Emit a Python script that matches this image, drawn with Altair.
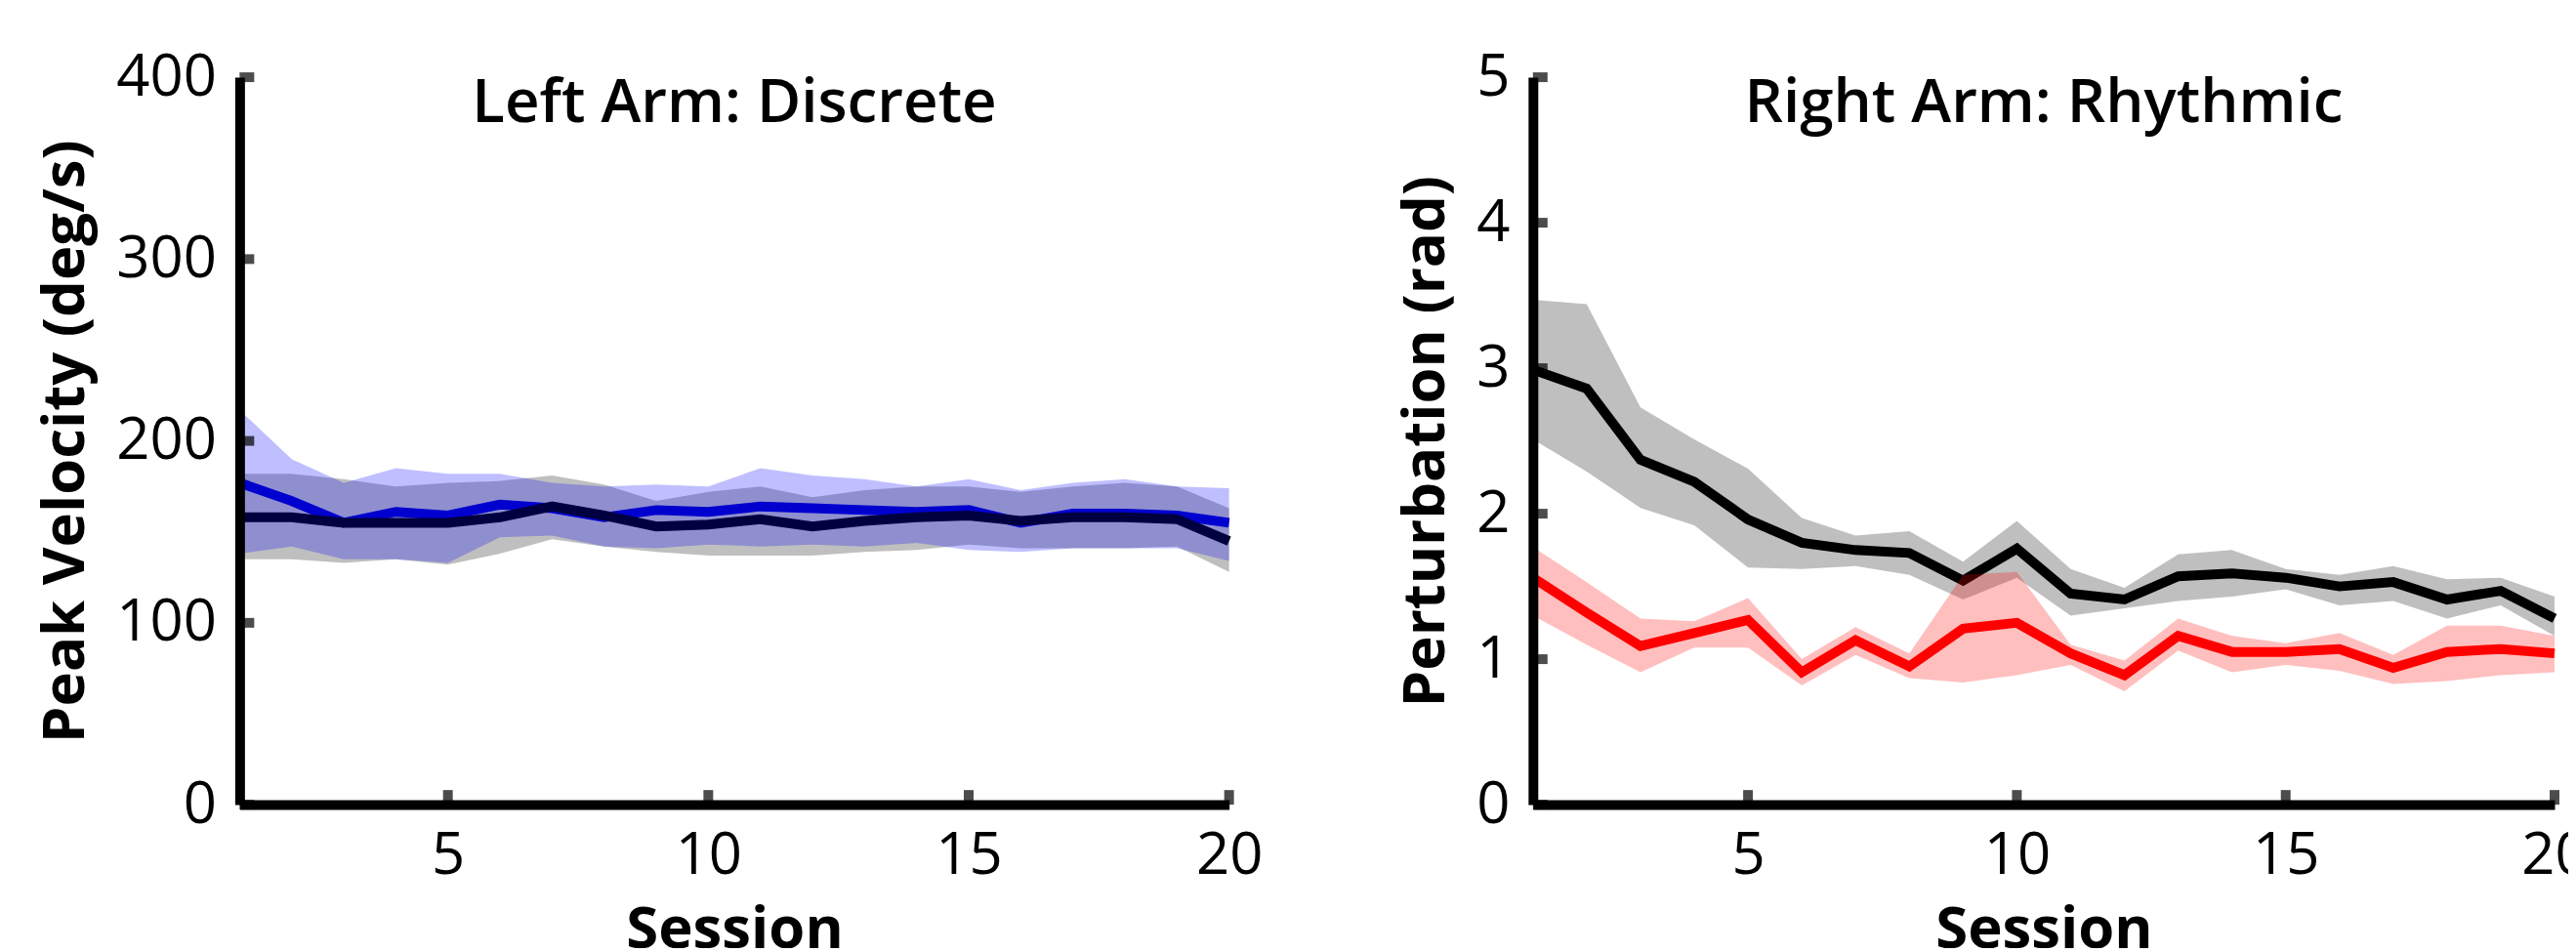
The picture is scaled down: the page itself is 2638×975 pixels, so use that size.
import altair as alt
import pandas as pd

SESSIONS = list(range(1, 21))

# Left panel: Peak Velocity (deg/s)
LEFT_BLUE_MEAN = [177, 167, 155, 161, 159, 165, 163, 158, 162, 161, 164, 163, 162, 161, 162, 155, 160, 160, 159, 155]
LEFT_BLUE_HI = [217, 190, 177, 185, 182, 182, 177, 175, 176, 175, 185, 181, 179, 175, 179, 173, 177, 179, 175, 174]
LEFT_BLUE_LO = [138, 142, 135, 135, 133, 147, 148, 142, 141, 143, 142, 143, 142, 144, 140, 139, 141, 141, 141, 134]
LEFT_BLACK_MEAN = [158, 158, 155, 155, 155, 158, 164, 159, 153, 154, 157, 153, 156, 158, 159, 156, 158, 158, 157, 145]
LEFT_BLACK_HI = [182, 182, 179, 175, 177, 178, 181, 176, 167, 172, 175, 169, 173, 175, 175, 172, 175, 177, 175, 163]
LEFT_BLACK_LO = [135, 135, 133, 135, 132, 138, 146, 142, 139, 137, 137, 137, 139, 140, 143, 141, 141, 141, 142, 128]

# Right panel: Perturbation (rad)
RIGHT_RED_MEAN = [1.56, 1.32, 1.09, 1.18, 1.27, 0.91, 1.13, 0.95, 1.21, 1.25, 1.04, 0.89, 1.16, 1.05, 1.05, 1.07, 0.94, 1.05, 1.07, 1.04]
RIGHT_RED_HI = [1.77, 1.53, 1.28, 1.26, 1.42, 1.00, 1.22, 1.04, 1.58, 1.60, 1.10, 0.99, 1.28, 1.16, 1.11, 1.18, 1.03, 1.23, 1.23, 1.16]
RIGHT_RED_LO = [1.30, 1.10, 0.91, 1.08, 1.08, 0.82, 1.03, 0.87, 0.84, 0.89, 0.96, 0.78, 1.06, 0.91, 0.96, 0.92, 0.83, 0.85, 0.89, 0.91]
RIGHT_BLACK_MEAN = [2.99, 2.86, 2.37, 2.22, 1.96, 1.80, 1.75, 1.73, 1.54, 1.76, 1.45, 1.41, 1.57, 1.59, 1.56, 1.50, 1.53, 1.41, 1.47, 1.28]
RIGHT_BLACK_HI = [3.47, 3.44, 2.73, 2.51, 2.31, 1.97, 1.85, 1.88, 1.67, 1.95, 1.62, 1.49, 1.72, 1.75, 1.62, 1.58, 1.64, 1.55, 1.56, 1.43]
RIGHT_BLACK_LO = [2.51, 2.29, 2.04, 1.92, 1.63, 1.62, 1.64, 1.58, 1.41, 1.56, 1.30, 1.35, 1.40, 1.43, 1.48, 1.37, 1.40, 1.28, 1.37, 1.16]

X_TICKS = [5, 10, 15, 20]
LEFT_Y_TICKS = [0, 100, 200, 300, 400]
RIGHT_Y_TICKS = [0, 1, 2, 3, 4, 5]

FONT = "Open Sans"
PLOT_H = 747


def panel(title, ytitle, ydomain, yticks, color, mean_c, lo_c, hi_c, mean_k, lo_k, hi_k, width):
    df = pd.DataFrame({
        "session": SESSIONS,
        "mc": mean_c, "lc": lo_c, "hc": hi_c,
        "mk": mean_k, "lk": lo_k, "hk": hi_k,
    })
    xaxis = alt.Axis(values=X_TICKS, title="Session", format="d", zindex=1, labelFlush=False)
    yaxis = alt.Axis(values=yticks, title=ytitle, format="d", zindex=1, labelFlush=False)
    xs = alt.Scale(domain=[1, 20], nice=False, zero=False)
    ys = alt.Scale(domain=ydomain, nice=False, zero=False)

    def X(field="session"):
        return alt.X(field, type="quantitative", scale=xs, axis=xaxis)

    def Y(field):
        return alt.Y(field, type="quantitative", scale=ys, axis=yaxis)

    base = alt.Chart(df)
    line_c = base.mark_line(color=color, strokeWidth=10).encode(x=X(), y=Y("mc"))
    line_k = base.mark_line(color="#000000", strokeWidth=10).encode(x=X(), y=Y("mk"))
    band_k = base.mark_area(color="#000000", opacity=0.25).encode(x=X(), y=Y("lk"), y2="hk")
    band_c = base.mark_area(color=color, opacity=0.25).encode(x=X(), y=Y("lc"), y2="hc")

    xt = pd.DataFrame({"t": X_TICKS, "v": [ydomain[0]] * len(X_TICKS)})
    yt = pd.DataFrame({"t": [1] * len(yticks), "v": yticks})
    xticks = alt.Chart(xt).mark_tick(orient="vertical", size=15, thickness=10, yOffset=-7.5, color="black").encode(
        x=X("t"), y=Y("v"))
    yticks_m = alt.Chart(yt).mark_tick(orient="horizontal", size=15, thickness=10, xOffset=7.5, color="black").encode(
        x=X("t"), y=Y("v"))

    return alt.layer(line_c, line_k, band_k, band_c, xticks, yticks_m).properties(
        width=width, height=PLOT_H,
        title=alt.TitleParams(title, anchor="middle", frame="group", offset=-138, baseline="alphabetic",
                              fontSize=62, fontWeight=600, font=FONT, color="black"),
    )


left = panel("Left Arm: Discrete", "Peak Velocity (deg/s)", [0, 400], LEFT_Y_TICKS, "#0000ff",
             LEFT_BLUE_MEAN, LEFT_BLUE_LO, LEFT_BLUE_HI, LEFT_BLACK_MEAN, LEFT_BLACK_LO, LEFT_BLACK_HI, 1016)
right = panel("Right Arm: Rhythmic", "Perturbation (rad)", [0, 5], RIGHT_Y_TICKS, "#ff0000",
              RIGHT_RED_MEAN, RIGHT_RED_LO, RIGHT_RED_HI, RIGHT_BLACK_MEAN, RIGHT_BLACK_LO, RIGHT_BLACK_HI, 1049)

chart = alt.hconcat(left, right, spacing=312, bounds="flush").properties(
    padding={"left": 30, "top": 40, "right": -21, "bottom": -13}
).configure_view(stroke=None).configure_axis(
    domainColor="black", domainWidth=10, ticks=False, grid=False,
    labelFont=FONT, labelFontSize=60, labelColor="black",
    titleFont=FONT, titleFontSize=60, titleFontWeight="bold", titleColor="black",
).configure_axisX(labelPadding=24, titlePadding=17).configure_axisY(labelPadding=24, titlePadding=20)

chart.save("out.html", embed_options={"renderer": "svg", "actions": False})
